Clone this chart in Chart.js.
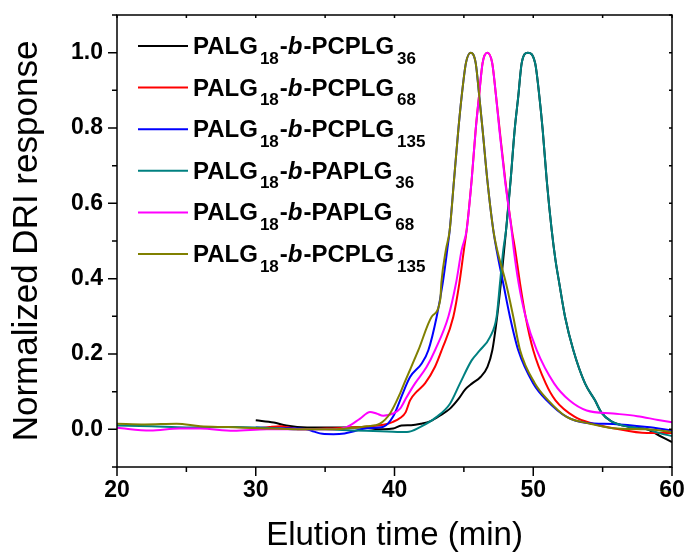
<!DOCTYPE html>
<html>
<head>
<meta charset="utf-8">
<script src="https://cdn.jsdelivr.net/npm/chart.js@4.4.1/dist/chart.umd.min.js"></script>
<style>
  html, body { margin: 0; padding: 0; background: #fff; }
</style>
</head>
<body>
<canvas id="myChart" width="686" height="557"></canvas>
<script>
// legend text pieces (PALG18-b-XXXXnn)
const firstBlock = 'PALG';
const firstDP = '18';
const secondBlocks = ['PCPLG', 'PCPLG', 'PCPLG', 'PAPLG', 'PAPLG', 'PCPLG'];
const secondDP = ['36', '68', '135', '36', '68', '135'];
const lineColors = ['#000000', '#ff0000', '#0000ff', '#008080', '#ff00ff', '#808000'];

const xTicks = [20, 30, 40, 50, 60];
const yTicks = [0.0, 0.2, 0.4, 0.6, 0.8, 1.0];

// [elution time (min), normalized DRI response]
const pcplg36 = [
  [30.0, 0.024], [31.3, 0.018], [32.2, 0.010], [33.7, 0.005], [35.5, 0.005], [37.5, 0.005],
  [39.2, 0.000], [39.9, 0.002], [40.5, 0.010], [41.2, 0.011], [41.9, 0.015], [42.6, 0.022],
  [43.3, 0.037], [44.0, 0.055], [44.6, 0.080], [45.1, 0.106], [45.6, 0.122], [46.2, 0.139],
  [46.7, 0.166], [47.05, 0.21], [47.4, 0.30], [47.7, 0.40], [48.04, 0.529], [48.37, 0.662],
  [48.66, 0.795], [48.92, 0.884], [49.17, 0.973], [49.61, 1.0], [50.13, 0.973], [50.44, 0.884],
  [50.68, 0.795], [50.97, 0.662], [51.33, 0.529], [51.6, 0.45], [51.88, 0.387], [52.29, 0.299],
  [52.89, 0.21], [53.73, 0.122], [54.45, 0.077], [54.9, 0.045], [55.6, 0.022], [56.97, 0.006],
  [58.2, 0.0], [59.1, -0.017], [60.0, -0.034]
];
const pcplg68 = [
  [30.0, 0.002], [31.0, 0.006], [31.75, 0.008], [32.5, 0.004], [33.2, 0.0], [35.1, 0.002],
  [37.5, 0.006], [39.2, 0.012], [39.9, 0.020], [40.4, 0.030], [40.8, 0.045], [41.12, 0.077],
  [41.6, 0.100], [42.2, 0.122], [42.92, 0.166], [43.4, 0.21], [44.24, 0.299], [44.67, 0.387],
  [45.0, 0.476], [45.2, 0.529], [45.56, 0.662], [45.85, 0.795], [46.09, 0.884], [46.35, 0.973],
  [46.69, 1.0], [47.04, 0.973], [47.32, 0.884], [47.58, 0.795], [47.98, 0.662], [48.46, 0.529],
  [48.7, 0.476], [49.05, 0.387], [49.45, 0.299], [50.0, 0.21], [50.9, 0.122], [51.6, 0.077],
  [53.0, 0.033], [54.3, 0.015], [55.77, 0.003], [58.2, -0.010], [60.0, -0.010]
];
const pcplg135 = [
  [30.0, 0.005], [32.0, 0.003], [33.6, 0.001], [34.2, -0.006], [34.8, -0.012], [35.6, -0.013],
  [36.4, -0.011], [37.2, -0.004], [38.0, 0.003], [39.2, 0.007], [39.9, 0.034], [40.4, 0.077],
  [40.7, 0.105], [41.12, 0.139], [41.96, 0.175], [42.44, 0.21], [43.04, 0.299], [43.47, 0.387],
  [43.8, 0.476], [43.98, 0.529], [44.29, 0.662], [44.6, 0.795], [44.84, 0.884], [45.15, 0.973],
  [45.49, 1.0], [45.85, 0.973], [46.11, 0.884], [46.35, 0.795], [46.69, 0.662], [47.12, 0.529],
  [47.36, 0.476], [47.84, 0.387], [48.32, 0.299], [48.92, 0.21], [50.0, 0.122], [50.97, 0.077],
  [52.41, 0.033], [53.85, 0.017], [55.77, 0.014], [58.2, 0.006], [60.0, -0.003]
];
const paplg36 = [
  [20.0, 0.010], [22.5, 0.008], [25.0, 0.005], [28.5, 0.006], [30.0, 0.005], [33.0, 0.0],
  [35.0, 0.0], [37.0, -0.003], [39.0, -0.005], [40.2, -0.007], [40.9, -0.007], [41.84, 0.006],
  [43.04, 0.033], [44.0, 0.068], [44.72, 0.122], [45.56, 0.183], [46.16, 0.21], [46.88, 0.245],
  [47.36, 0.299], [47.6, 0.387], [47.84, 0.476], [48.04, 0.529], [48.37, 0.662], [48.66, 0.795],
  [48.92, 0.884], [49.17, 0.973], [49.61, 1.0], [50.13, 0.973], [50.44, 0.884], [50.68, 0.795],
  [50.97, 0.662], [51.33, 0.529], [51.6, 0.45], [51.88, 0.387], [52.29, 0.299], [52.89, 0.21],
  [53.73, 0.122], [54.45, 0.077], [54.9, 0.045], [55.6, 0.022], [56.97, 0.006], [58.2, 0.0],
  [59.1, -0.010], [60.0, -0.018]
];
const paplg68 = [
  [20.0, 0.004], [22.4, -0.003], [24.5, 0.002], [26.0, 0.002], [28.4, -0.004], [30.8, 0.0],
  [33.2, 0.0], [35.6, 0.0], [36.55, 0.006], [37.5, 0.028], [38.24, 0.046], [38.7, 0.042],
  [39.19, 0.036], [39.9, 0.042], [40.4, 0.055], [40.88, 0.086], [41.48, 0.122], [42.32, 0.166],
  [42.92, 0.21], [43.88, 0.299], [44.43, 0.387], [44.84, 0.476], [45.2, 0.529], [45.56, 0.662],
  [45.85, 0.795], [46.09, 0.884], [46.35, 0.973], [46.69, 1.0], [47.04, 0.973], [47.32, 0.884],
  [47.56, 0.795], [47.96, 0.662], [48.44, 0.529], [48.6, 0.476], [48.95, 0.387], [49.45, 0.299],
  [50.25, 0.21], [51.5, 0.122], [52.6, 0.077], [53.85, 0.050], [55.77, 0.042], [57.5, 0.035],
  [59.0, 0.025], [60.0, 0.019]
];
const pcplg135b = [
  [20.0, 0.015], [22.0, 0.013], [24.3, 0.015], [26.0, 0.008], [28.0, 0.006], [30.3, 0.003],
  [33.2, 0.0], [35.6, 0.0], [37.0, 0.004], [38.0, 0.008], [38.95, 0.015], [39.68, 0.042],
  [40.4, 0.095], [40.7, 0.122], [41.72, 0.21], [42.68, 0.299], [43.3, 0.345], [43.38, 0.39],
  [43.7, 0.476], [43.98, 0.529], [44.29, 0.662], [44.6, 0.795], [44.84, 0.884], [45.15, 0.973],
  [45.49, 1.0], [45.85, 0.973], [46.11, 0.884], [46.35, 0.795], [46.69, 0.662], [47.12, 0.529],
  [47.4, 0.476], [48.04, 0.387], [48.56, 0.299], [49.05, 0.21], [50.12, 0.122], [51.08, 0.077],
  [52.41, 0.033], [54.09, 0.015], [55.77, 0.003], [58.2, 0.0], [60.0, -0.007]
];
const allSeries = [pcplg36, pcplg68, pcplg135, paplg36, paplg68, pcplg135b];

const FONT = '"Liberation Sans", Arial, sans-serif';

// legend with subscripts and italic b
const subLegend = {
  id: 'subLegend',
  afterDatasetsDraw(chart, args, o) {
    const ctx = chart.ctx;
    ctx.save();
    chart.data.datasets.forEach((ds, i) => {
      const y = o.top + i * o.step;
      ctx.strokeStyle = ds.borderColor;
      ctx.lineWidth = 2;
      ctx.beginPath();
      ctx.moveTo(o.lineFrom, y);
      ctx.lineTo(o.lineTo, y);
      ctx.stroke();

      const base = y + 8;
      const big = 'bold 24px ' + FONT;
      const small = 'bold 17px ' + FONT;
      const parts = [
        [firstBlock, big, 0, 0],
        [firstDP, small, 9.5, 2],
        ['-', big, 0, 1],
        ['b', 'italic bold 24px ' + FONT, 0, 0],
        ['-' + secondBlocks[i], big, 0, 1],
        [secondDP[i], small, 9.5, 3]
      ];
      let x = o.textX;
      ctx.fillStyle = '#000';
      ctx.textBaseline = 'alphabetic';
      ctx.textAlign = 'left';
      parts.forEach(([txt, font, dy, gap]) => {
        ctx.font = font;
        x += gap;
        ctx.fillText(txt, x, base + dy);
        x += ctx.measureText(txt).width;
      });
    });
    ctx.restore();
  }
};

// box frame with outward major/minor ticks on bottom and left
const frameTicks = {
  id: 'frameTicks',
  afterDatasetsDraw(chart) {
    const {ctx, chartArea: {left, top, right, bottom}} = chart;
    const xs = chart.scales.x, ys = chart.scales.y;
    ctx.save();
    ctx.strokeStyle = '#000';
    ctx.lineWidth = 1.5;
    ctx.strokeRect(left, top, right - left, bottom - top);
    ctx.beginPath();
    for (let v = 20; v <= 60; v += 5) {
      const px = xs.getPixelForValue(v);
      const major = v % 10 === 0;
      ctx.moveTo(px, bottom);
      ctx.lineTo(px, bottom + (major ? 9 : 5));
      ctx.moveTo(px, top);
      ctx.lineTo(px, top + 3);
    }
    for (let k = -1; k <= 11; k++) {
      const py = ys.getPixelForValue(k / 10);
      const major = k % 2 === 0;
      ctx.moveTo(left, py);
      ctx.lineTo(left - (major ? 9 : 5), py);
      ctx.moveTo(right, py);
      ctx.lineTo(right - 3, py);
    }
    ctx.stroke();
    ctx.restore();
  }
};

const ctx = document.getElementById('myChart').getContext('2d');
const chart = new Chart(ctx, {
  type: 'line',
  data: {
    datasets: allSeries.map((pts, i) => ({
      label: firstBlock + firstDP + '-b-' + secondBlocks[i] + secondDP[i],
      data: pts.map(p => ({x: p[0], y: p[1]})),
      borderColor: lineColors[i],
      backgroundColor: lineColors[i],
      borderWidth: 2,
      pointRadius: 0,
      cubicInterpolationMode: 'monotone',
      order: -i
    }))
  },
  options: {
    responsive: false,
    animation: false,
    layout: {padding: {top: 15, right: 14, left: 0, bottom: 0}},
    plugins: {
      legend: {display: false},
      tooltip: {enabled: false},
      subLegend: {top: 46, step: 41.6, lineFrom: 138, lineTo: 188, textX: 193}
    },
    scales: {
      x: {
        type: 'linear',
        min: 20, max: 60,
        grid: {display: false, drawTicks: false},
        border: {display: false},
        ticks: {autoSkip: false, maxRotation: 0, padding: 10,
                color: '#000', font: {family: FONT, size: 23, weight: 'bold'}},
        afterBuildTicks(scale) { scale.ticks = xTicks.map(v => ({value: v})); },
        title: {display: true, text: 'Elution time (min)', color: '#000',
                font: {family: FONT, size: 33}, padding: {top: 0, bottom: 1}},
        afterFit(scale) { scale.height = 90; scale.paddingLeft = 0; scale.paddingRight = 0; }
      },
      y: {
        min: -0.1, max: 1.1,
        grid: {display: false, drawTicks: false},
        border: {display: false},
        ticks: {autoSkip: false, padding: 14,
                color: '#000', font: {family: FONT, size: 23, weight: 'bold'},
                callback: v => v.toFixed(1)},
        afterBuildTicks(scale) { scale.ticks = yTicks.map(v => ({value: v})); },
        title: {display: true, text: 'Normalized DRI response', color: '#000',
                font: {family: FONT, size: 35}, padding: {top: 6, bottom: 0}},
        afterFit(scale) { scale.width = 117; scale.paddingTop = 0; scale.paddingBottom = 0; }
      }
    }
  },
  plugins: [frameTicks, subLegend]
});
</script>
</body>
</html>
